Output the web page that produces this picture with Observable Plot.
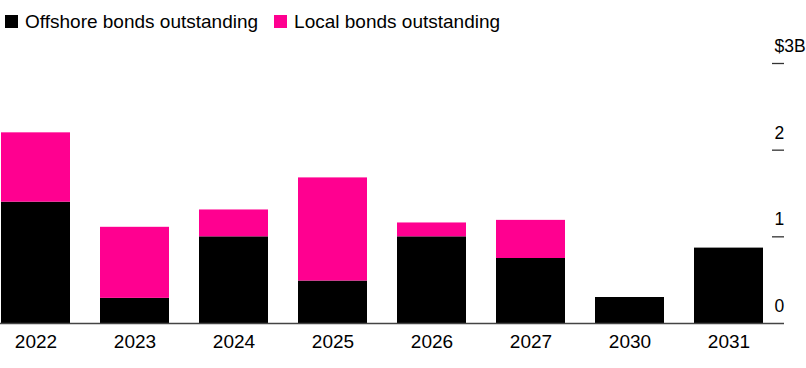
<!DOCTYPE html>
<html>
<head>
<meta charset="utf-8">
<script src="https://cdn.jsdelivr.net/npm/d3@7"></script>
<script src="https://cdn.jsdelivr.net/npm/@observablehq/plot@0.6"></script>
<style>
  body { margin: 0; background: #fff; font-family: "Liberation Sans", Arial, Helvetica, sans-serif; }
  #legend { height: 36px; box-sizing: border-box; padding: 11px 0 0 5px; font-size: 19px; line-height: 22px; color: #000; white-space: nowrap; }
  .item { display: inline-block; margin-right: 16px; }
  .sw { display: inline-block; width: 13px; height: 13px; margin-right: 7px; vertical-align: baseline; }
  svg { display: block; }
</style>
</head>
<body>
<div id="legend"></div>
<div id="chart"></div>
<script>
const years = ["2022", "2023", "2024", "2025", "2026", "2027", "2030", "2031"];
const offshore = [1.40, 0.29, 1.00, 0.49, 1.00, 0.75, 0.30, 0.87];
const local = [0.80, 0.82, 0.31, 1.19, 0.16, 0.44, 0, 0];
const seriesNames = ["Offshore bonds outstanding", "Local bonds outstanding"];
const seriesColors = ["#000000", "#ff0090"];
const yTicks = [0, 1, 2, 3];
const yTickLabels = ["0", "1", "2", "$3B"];

const legend = document.getElementById("legend");
seriesNames.forEach((n, i) => {
  const s = document.createElement("span");
  s.className = "item";
  s.innerHTML = `<span class="sw" style="background:${seriesColors[i]}"></span>${n}`;
  legend.appendChild(s);
});

const table = [];
years.forEach((y, i) => {
  table.push({year: y, series: seriesNames[0], value: offshore[i]});
  table.push({year: y, series: seriesNames[1], value: local[i]});
});

const chart = Plot.plot({
  width: 806,
  height: 332,
  marginLeft: 0,
  marginRight: 22,
  marginTop: 27,
  marginBottom: 45,
  style: {fontFamily: "Liberation Sans, Arial, Helvetica, sans-serif", fontSize: "19px", color: "#000", background: "#fff"},
  x: {domain: years, range: [0, 764], paddingInner: 0.303, paddingOuter: 0.01, label: null},
  y: {domain: [0, 3], label: null, axis: null},
  color: {domain: seriesNames, range: seriesColors},
  marks: [
    Plot.barY(table, {x: "year", y: "value", fill: "series", order: seriesNames}),
    Plot.ruleY(yTicks.slice(1), {y: d => d, insetLeft: 772, stroke: "#333", strokeWidth: 1.3}),
    Plot.ruleY([0], {stroke: "#444", strokeWidth: 1.5}),
    Plot.text(yTicks, {y: d => d, text: (d, i) => yTickLabels[i], frameAnchor: "right", dx: -10, textAnchor: "start", lineAnchor: "middle", dy: -17, fill: "#000", fontSize: 17.5}),
    Plot.axisX({tickSize: 0, tickPadding: 11, fontSize: 19, fill: "#000"})
  ]
});
document.getElementById("chart").appendChild(chart);
</script>
</body>
</html>
